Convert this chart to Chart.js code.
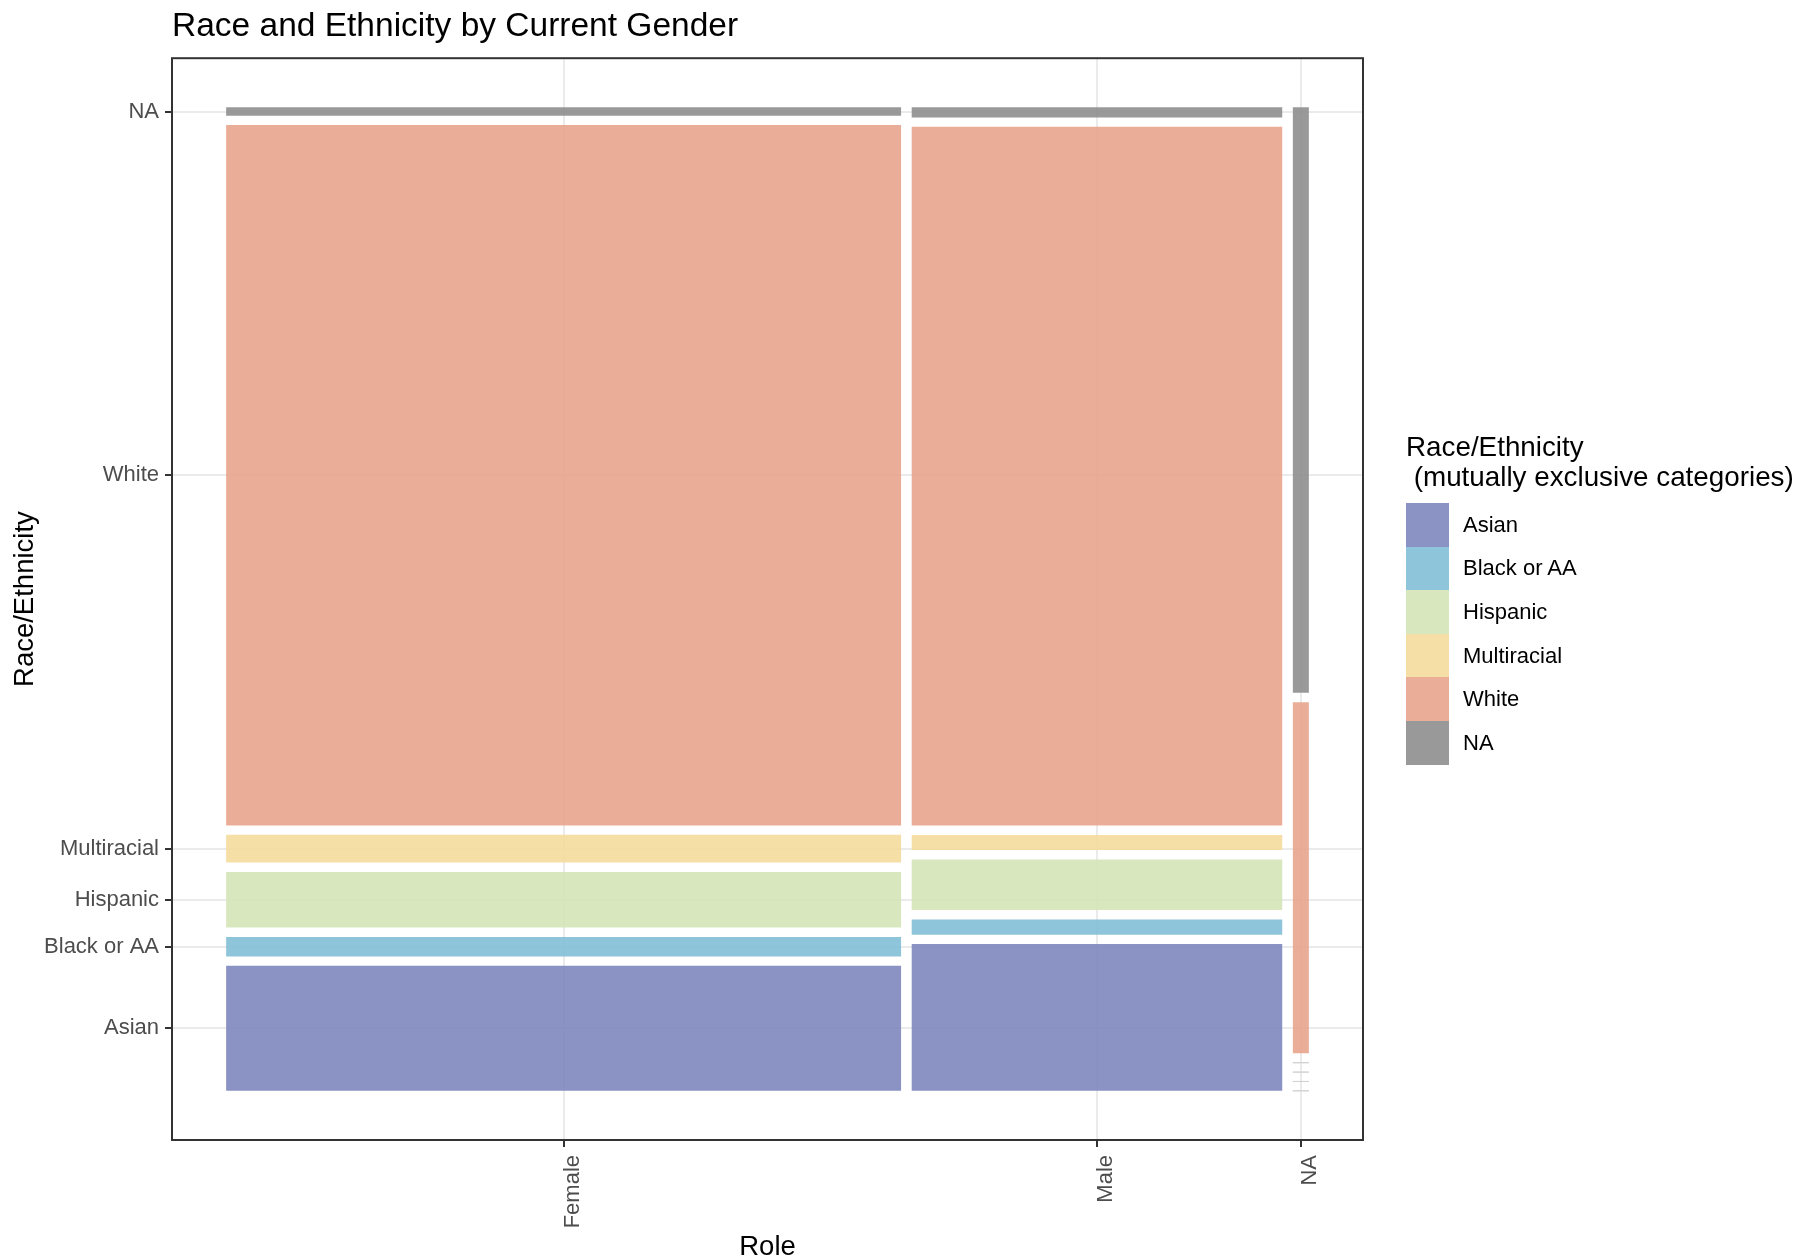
<!DOCTYPE html>
<html lang="en">
<head>
<meta charset="UTF-8">
<title>Race and Ethnicity by Current Gender</title>
<script src="https://cdn.jsdelivr.net/npm/chart.js"></script>
<style>
    body { margin: 0; background: #fff; font-family: "Liberation Sans", Arial, sans-serif; }
    #wrap { position: relative; width: 1819px; height: 1260px; }
    #legend { position: absolute; left: 1406px; top: 432px; color: #000; }
    .legend-title { font-size: 27.8px; line-height: 30px; white-space: pre; margin-bottom: 11px; }
    .legend-item { display: flex; align-items: center; height: 43.6px; }
    .legend-key { width: 43px; height: 100%; margin-right: 14px; }
    .legend-label { font-size: 22px; }
</style>
</head>
<body>
<div id="wrap">
    <canvas id="mosaic" width="1819" height="1260"></canvas>
    <div id="legend"></div>
</div>

<script>
    // counts (column width = gender share, tile height = race share within gender)
    const genders = ['Female', 'Male', 'NA'];
    const races = ['Asian', 'Black or AA', 'Hispanic', 'Multiracial', 'White', 'NA'];
    const femaleCounts = [45, 7, 20, 10, 252, 3];
    const maleCounts = [29, 3, 10, 3, 138, 2];
    const naCounts = [0, 0, 0, 0, 3, 5];

    const legendColors = ['#8a93c4', '#8fc5da', '#d9e7bf', '#f5dfa6', '#eaad98', '#999999'];
    const tileColors = [
        'rgba(125,135,189,0.9)',
        'rgba(131,191,214,0.9)',
        'rgba(213,228,184,0.9)',
        'rgba(244,219,156,0.9)',
        'rgba(232,164,141,0.9)',
        'rgba(142,142,142,0.9)'
    ];

    const fontFamily = '"Liberation Sans", Arial, sans-serif';
    Chart.defaults.font.family = fontFamily;

    const countsByGender = [femaleCounts, maleCounts, naCounts];
    const gap = 0.01;
    const sum = arr => arr.reduce((s, v) => s + v, 0);
    const total = sum(countsByGender.map(sum));
    const xSpan = 1 + gap * (genders.length - 1);
    const ySpan = 1 + gap * (races.length - 1);

    const tiles = [];
    const xCenters = [];
    let xStart = 0;
    countsByGender.forEach((counts, g) => {
        const n = sum(counts);
        const w = n / total;
        let yStart = 0;
        counts.forEach((c, r) => {
            const h = c / n;
            tiles.push({ g, r, x0: xStart, x1: xStart + w, y0: yStart, y1: yStart + h, empty: c === 0 });
            yStart += h + gap;
        });
        xCenters.push(xStart + w / 2);
        xStart += w + gap;
    });
    const yCenters = tiles.filter(t => t.g === 0).map(t => (t.y0 + t.y1) / 2);

    const datasets = tiles.map(t => ({
        label: genders[t.g] + ' / ' + races[t.r],
        data: [
            { x: t.x0, y: t.y0 },
            { x: t.x1, y: t.y0 },
            { x: t.x1, y: t.y1 },
            { x: t.x0, y: t.y1 }
        ],
        backgroundColor: tileColors[t.r],
        borderColor: '#d2d2d2',
        borderWidth: t.empty ? 1 : 0,
        fill: t.empty ? false : 'shape',
        pointRadius: 0,
        pointHitRadius: 0
    }));

    const panelBorder = {
        id: 'panelBorder',
        afterDatasetsDraw(chart) {
            const { ctx, chartArea: a } = chart;
            ctx.save();
            ctx.strokeStyle = '#333333';
            ctx.lineWidth = 2;
            ctx.strokeRect(a.left, a.top, a.right - a.left, a.bottom - a.top);
            ctx.restore();
        }
    };

    const gridStyle = { color: '#ebebeb', lineWidth: 2, tickColor: '#333333', tickLength: 7, tickWidth: 2 };
    const tickFont = { size: 22, family: fontFamily };

    new Chart(document.getElementById('mosaic').getContext('2d'), {
        type: 'line',
        data: { datasets },
        options: {
            responsive: false,
            devicePixelRatio: 1,
            animation: false,
            events: [],
            layout: { padding: { left: 0, top: 0, right: 456, bottom: 0 } },
            plugins: {
                legend: { display: false },
                tooltip: { enabled: false },
                title: {
                    display: true,
                    text: 'Race and Ethnicity by Current Gender',
                    align: 'start',
                    fullSize: false,
                    color: '#000',
                    font: { size: 33.5, weight: 'normal', family: fontFamily },
                    padding: { top: 7, bottom: 11 }
                }
            },
            scales: {
                x: {
                    type: 'linear',
                    bounds: 'data',
                    min: -0.05 * xSpan,
                    max: 1.05 * xSpan,
                    afterBuildTicks: scale => { scale.ticks = xCenters.map(v => ({ value: v })); },
                    afterFit: scale => { scale.height = 120; },
                    ticks: {
                        autoSkip: false,
                        minRotation: 90,
                        maxRotation: 90,
                        padding: 8,
                        labelOffset: 9,
                        color: '#4d4d4d',
                        font: tickFont,
                        callback: (value, index) => genders[index]
                    },
                    grid: gridStyle,
                    border: { display: false },
                    title: {
                        display: true,
                        text: 'Role',
                        color: '#000',
                        font: { size: 27.5, family: fontFamily, lineHeight: 0.95 },
                        padding: { top: 0, bottom: 0 }
                    }
                },
                y: {
                    type: 'linear',
                    bounds: 'data',
                    min: -0.05 * ySpan,
                    max: 1.05 * ySpan,
                    afterBuildTicks: scale => { scale.ticks = yCenters.map(v => ({ value: v })); },
                    afterFit: scale => { scale.width = 172; },
                    ticks: {
                        autoSkip: false,
                        padding: 6,
                        color: '#4d4d4d',
                        font: tickFont,
                        callback: (value, index) => races[index]
                    },
                    grid: gridStyle,
                    border: { display: false },
                    title: {
                        display: true,
                        text: 'Race/Ethnicity',
                        color: '#000',
                        font: { size: 27.5, family: fontFamily },
                        padding: { top: 8.5, bottom: 0 }
                    }
                }
            }
        },
        plugins: [panelBorder]
    });

    // legend (ggplot style: stacked keys with no gaps)
    const legend = document.getElementById('legend');
    const legendTitle = document.createElement('div');
    legendTitle.className = 'legend-title';
    legendTitle.textContent = 'Race/Ethnicity\n (mutually exclusive categories)';
    legend.appendChild(legendTitle);
    races.forEach((race, i) => {
        const item = document.createElement('div');
        item.className = 'legend-item';
        const key = document.createElement('div');
        key.className = 'legend-key';
        key.style.background = legendColors[i];
        const label = document.createElement('span');
        label.className = 'legend-label';
        label.textContent = race;
        item.appendChild(key);
        item.appendChild(label);
        legend.appendChild(item);
    });
</script>
</body>
</html>
